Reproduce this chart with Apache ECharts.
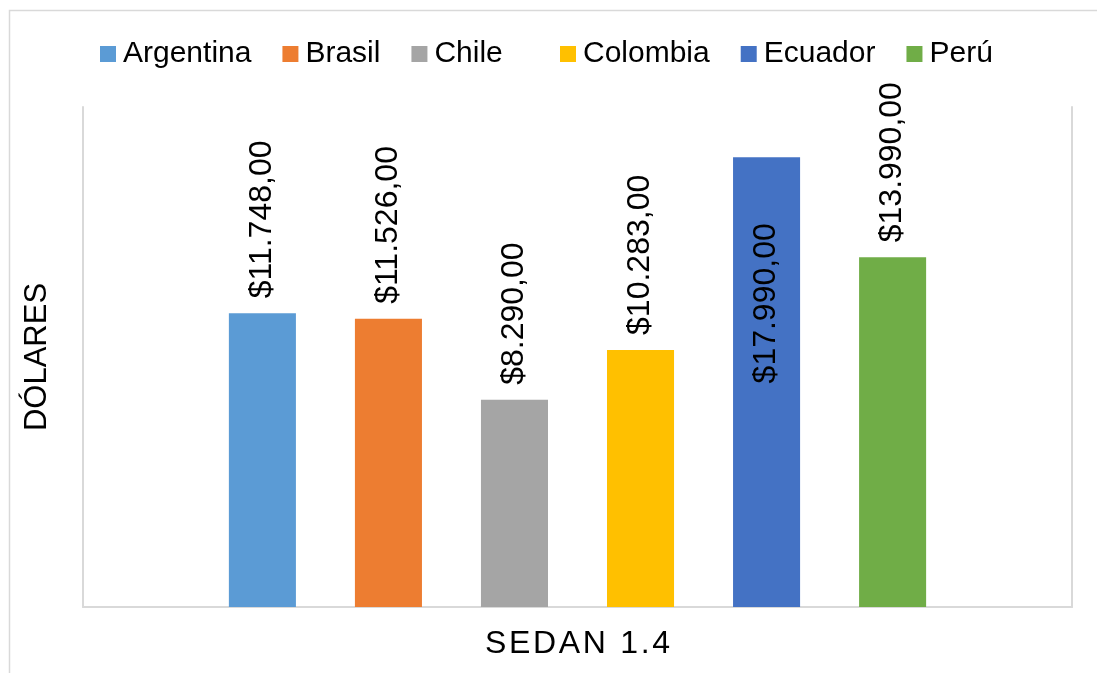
<!DOCTYPE html>
<html>
<head>
<meta charset="utf-8">
<script src="https://cdn.jsdelivr.net/npm/echarts@6/dist/echarts.min.js"></script>
<style>
    html, body { margin: 0; padding: 0; background: #fff; }
    #chart { width: 1097px; height: 673px; }
</style>
</head>
<body>
<div id="chart"></div>
<script>
const categories = ["SEDAN 1.4"];
const countries = ["Argentina", "Brasil", "Chile", "Colombia", "Ecuador", "Perú"];
const prices = [11748, 11526, 8290, 10283, 17990, 13990];
const yMax = 20000;

const palette = ["#5B9BD5", "#ED7D31", "#A5A5A5", "#FFC000", "#4472C4", "#70AD47"];
const font = "'Liberation Sans', Arial, sans-serif";

// 11748 -> "$11.748,00"
const money = (v) => "$" + String(v).replace(/\B(?=(\d{3})+(?!\d))/g, ".") + ",00";
// no letterSpacing in echarts text, fake it with hair spaces
const spaced = (s) => s.split("").join("\u200A");

const chart = echarts.init(document.getElementById("chart"));

const legendBase = {
    top: 39,
    padding: 0,
    icon: "rect",
    itemWidth: 16,
    itemHeight: 16,
    itemGap: 31,
    textStyle: { fontFamily: font, fontSize: 30, color: "#000", padding: [0, 0, 0, 2] },
};

const series = countries.map((name, i) => {
    // the tallest bar keeps its label inside, like the original
    const inside = prices[i] === Math.max(...prices);
    return {
        name: name,
        type: "bar",
        barGap: "88%",
        barCategoryGap: "29.5%",
        itemStyle: { color: palette[i] },
        label: {
            show: true,
            rotate: 90,
            position: inside ? "insideTop" : "top",
            align: inside ? "right" : "left",
            verticalAlign: "middle",
            distance: inside ? 66 : 15,
            fontFamily: font,
            fontSize: 32,
            color: "#000",
            formatter: (p) => money(p.value),
        },
        data: [prices[i]],
    };
});

const option = {
    animation: false,
    textStyle: { fontFamily: font },
    graphic: [
        {
            type: "rect",
            shape: { x: 9.5, y: 10.5, width: 1200, height: 800 },
            style: { fill: "none", stroke: "#d9d9d9", lineWidth: 1.5 },
            silent: true,
        },
    ],
    legend: [
        Object.assign({ left: 100, data: countries.slice(0, 3) }, legendBase),
        Object.assign({ left: 560, data: countries.slice(3) }, legendBase),
    ],
    grid: { left: 83, right: 25, top: 107, bottom: 66 },
    xAxis: {
        type: "category",
        data: categories,
        axisLine: { lineStyle: { color: "#d9d9d9", width: 2 } },
        axisTick: { show: false },
        axisLabel: { show: false },
        name: spaced(categories[0]),
        nameLocation: "middle",
        nameGap: 21,
        nameTextStyle: { fontFamily: font, fontSize: 32, color: "#000" },
    },
    yAxis: [
        {
            type: "value",
            min: 0,
            max: yMax,
            interval: 5000,
            axisLine: { show: true, lineStyle: { color: "#d9d9d9", width: 2 } },
            axisTick: { show: false },
            axisLabel: { show: false },
            splitLine: { show: false },
            name: "DÓLARES",
            nameLocation: "middle",
            nameGap: 30,
            nameTextStyle: { fontFamily: font, fontSize: 31, color: "#000" },
        },
        {
            type: "value",
            position: "right",
            min: 0,
            max: yMax,
            interval: 5000,
            axisLine: { show: true, lineStyle: { color: "#d9d9d9", width: 2 } },
            axisTick: { show: false },
            axisLabel: { show: false },
            splitLine: { show: false },
        },
    ],
    series: series,
};

chart.setOption(option);
</script>
</body>
</html>
